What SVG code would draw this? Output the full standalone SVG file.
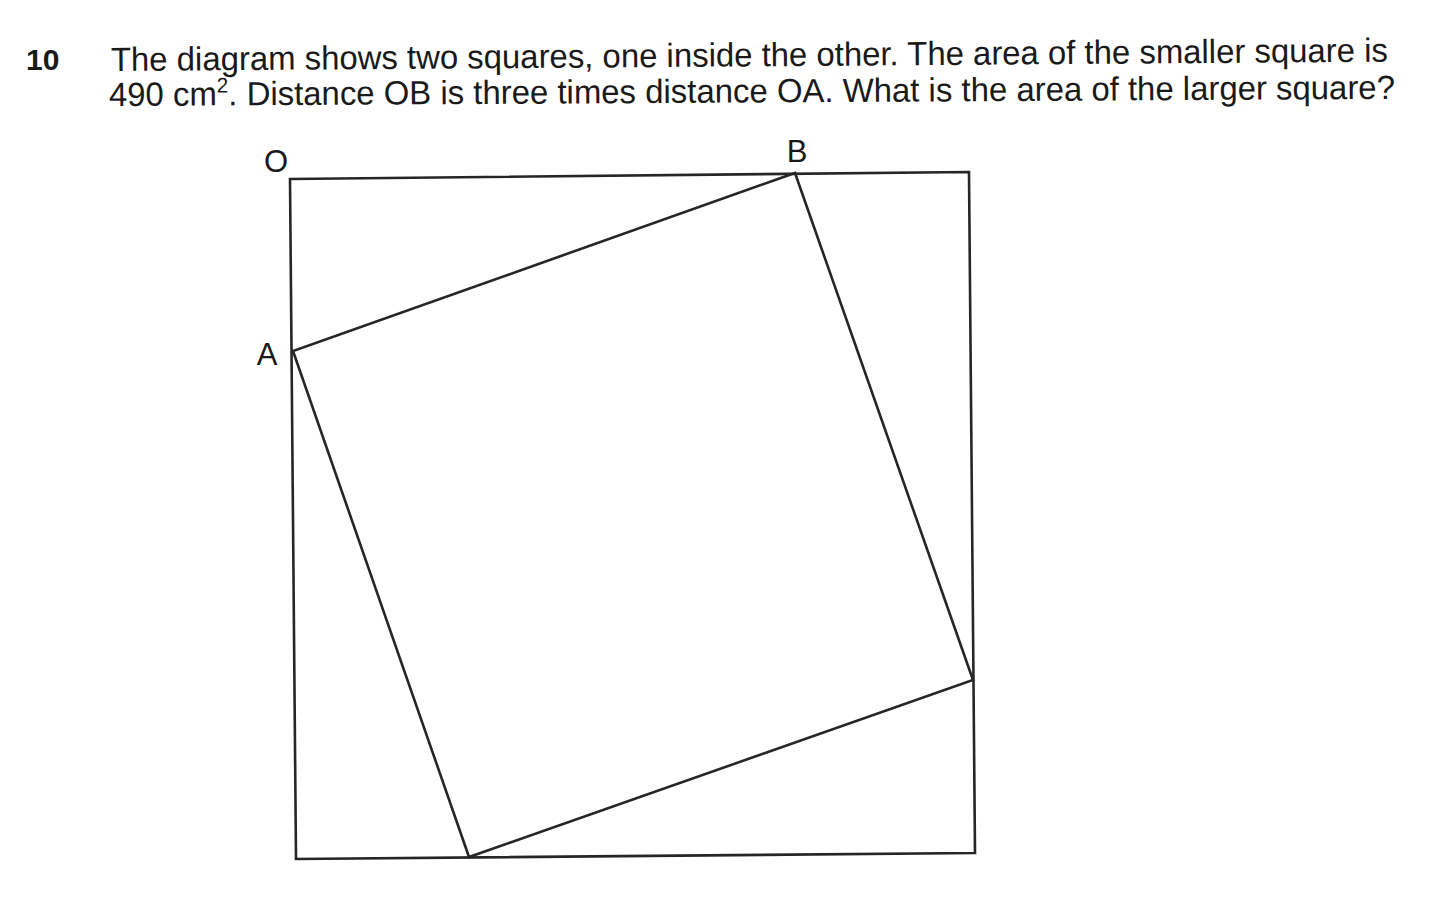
<svg xmlns="http://www.w3.org/2000/svg" width="1452" height="897" viewBox="0 0 1452 897">
<style>
.t{font-family:"Liberation Sans",Arial,sans-serif;font-size:33.5px;fill:#1a1a1a}
.n{font-family:"Liberation Sans",Arial,sans-serif;font-size:30px;font-weight:bold;fill:#1a1a1a}
.lbl{font-family:"Liberation Sans",Arial,sans-serif;font-size:31px;fill:#1a1a1a;text-anchor:middle}
.sq{fill:none;stroke:#262626;stroke-width:2.6;stroke-linejoin:miter}
</style>
<rect width="1452" height="897" fill="#ffffff"/>
<g id="question">
<text class="n" x="26" y="70">10</text>
<text class="t" x="111" y="71" textLength="1277" lengthAdjust="spacingAndGlyphs" transform="rotate(-0.42 111 71)">The diagram shows two squares, one inside the other. The area of the smaller square is</text>
<text class="t" x="109" y="106" textLength="1286" lengthAdjust="spacingAndGlyphs" transform="rotate(-0.32 109 106)">490 <tspan>cm</tspan><tspan font-size="21" dy="-13">2</tspan><tspan dy="13">. Distance OB is three times distance OA. What is the area of the larger square?</tspan></text>
</g>
<g id="outer-square">
<polygon class="sq" points="290,179 969,172 975,853 296,859"/>
</g>
<g id="inner-square">
<polygon class="sq" points="795,173 973,680 469,857 293,351"/>
</g>
<g id="label-O"><text class="lbl" x="276" y="172">O</text></g>
<g id="label-B"><text class="lbl" x="797" y="162">B</text></g>
<g id="label-A"><text class="lbl" x="267" y="365">A</text></g>
</svg>
